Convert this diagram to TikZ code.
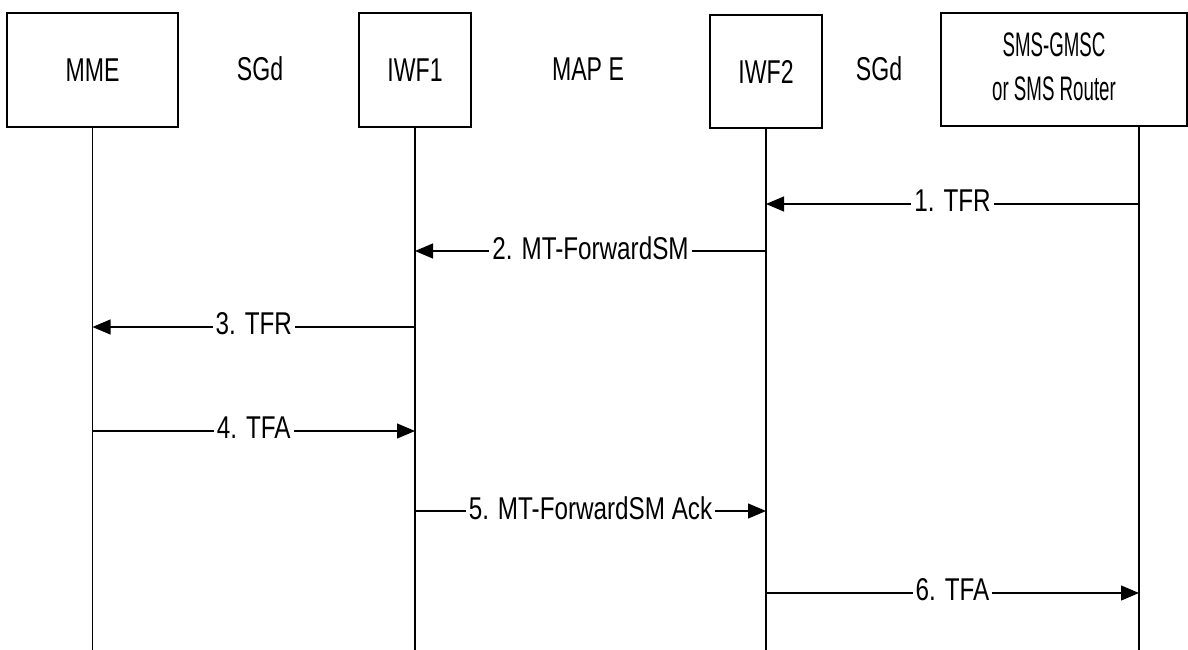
\documentclass[tikz,border=0pt]{standalone}
\usepackage{fontspec}
\setmainfont{Liberation Sans}[FakeStretch=0.70]
\newfontfamily\smsfont{Liberation Sans}[FakeStretch=0.55]
\newfontfamily\msgfont{Liberation Sans}[FakeStretch=0.77]
\usetikzlibrary{arrows.meta}
\begin{document}
\begin{tikzpicture}[x=1pt,y=-1pt,
  entity/.style={draw, line width=1.4pt, inner sep=0pt, font=\fontsize{33}{38}\selectfont},
  iface/.style={inner sep=0pt, font=\fontsize{33}{38}\selectfont},
  lifeline/.style={line width=1.2pt},
  msg/.style={line width=1.2pt, -{Triangle[length=18pt,width=15pt]}},
  lbl/.style={fill=white, inner xsep=3pt, inner ysep=0pt, yshift=3pt, font=\msgfont\fontsize{31.5}{36}\selectfont}]
\useasboundingbox (0,0) rectangle (1188,650);

% entities
\node[entity, minimum width=171pt, minimum height=114pt] (mme) at (92.5,70) {MME};
\node[entity, minimum width=112pt, minimum height=114pt] (iwf1) at (415,70) {IWF1};
\node[entity, minimum width=112pt, minimum height=113pt] (iwf2) at (766,71.5) {IWF2};
\node[entity, minimum width=246pt, minimum height=113pt] (sms) at (1064,69.5) {};
\node[inner sep=0pt, align=center, font=\smsfont\fontsize{34}{44}\selectfont] (smstext) at (1054,67) {SMS-GMSC\\or SMS Router};

% interface labels
\node[iface] (sgd1) at (260,69) {SGd};
\node[iface] (mape) at (588,69) {MAP E};
\node[iface] (sgd2) at (879,69) {SGd};

% lifelines
\coordinate (bottom) at (0,650);
\coordinate (smsl) at (1139,126);
\draw[lifeline] (mme.south) -- (mme.south |- bottom);
\draw[lifeline] (iwf1.south) -- (iwf1.south |- bottom);
\draw[lifeline] (iwf2.south) -- (iwf2.south |- bottom);
\draw[lifeline] (smsl) -- (smsl |- bottom);

% message rows
\coordinate (y1) at (0,204);
\coordinate (y2) at (0,251);
\coordinate (y3) at (0,327);
\coordinate (y4) at (0,431);
\coordinate (y5) at (0,511);
\coordinate (y6) at (0,593);

\draw[msg] (smsl |- y1) -- node[lbl] {1. TFR} (iwf2 |- y1);
\draw[msg] (iwf2 |- y2) -- node[lbl] {2. MT-ForwardSM} (iwf1 |- y2);
\draw[msg] (iwf1 |- y3) -- node[lbl] {3. TFR} (mme |- y3);
\draw[msg] (mme |- y4) -- node[lbl] {4. TFA} (iwf1 |- y4);
\draw[msg] (iwf1 |- y5) -- node[lbl] {5. MT-ForwardSM Ack} (iwf2 |- y5);
\draw[msg] (iwf2 |- y6) -- node[lbl] {6. TFA} (smsl |- y6);
\end{tikzpicture}
\end{document}
